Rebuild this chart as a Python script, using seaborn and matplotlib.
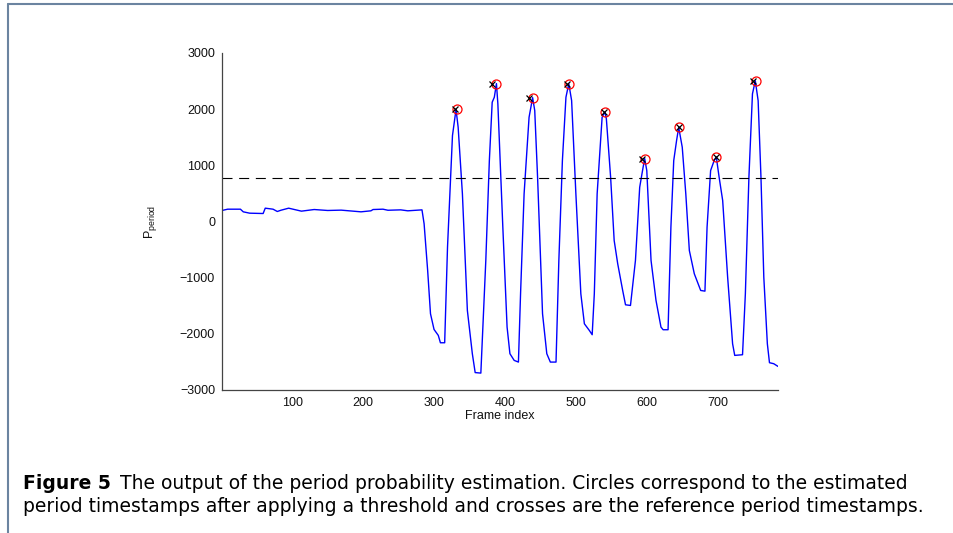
import numpy as np
import pandas as pd
import seaborn as sns
import matplotlib.pyplot as plt
from matplotlib.lines import Line2D

# period probability trace
frames = [1, 9, 27, 31, 40, 59, 62, 73, 79, 84, 95, 113, 131, 150, 169, 197, 211, 214,
          228, 235, 253, 263, 283,
          286, 291, 295, 300, 306, 309, 315,
          319, 326, 331, 334, 340, 347, 354, 358, 366,
          373, 378, 382, 385, 388, 390, 397, 403, 407, 413, 419,
          422, 427, 434, 439, 442, 446, 453, 459, 464, 472,
          476, 481, 486, 490, 494, 500, 507, 512, 519, 523,
          526, 530, 537, 541, 543, 549, 554, 559, 566, 570, 577,
          584, 590, 594, 597, 600, 606, 613, 620, 623, 630,
          634, 638, 642, 645, 650, 655, 660, 667, 676, 682,
          685, 690, 695, 698, 702, 707, 714, 721, 724, 735,
          739, 744, 749, 753, 757, 761, 765, 770, 773, 779, 785]
p_period = [196, 219, 219, 172, 148, 142, 237, 219, 178, 200, 237, 184, 213, 196, 202, 172, 190, 213,
            219, 200, 207, 190, 207,
            -41, -872, -1643, -1922, -2028, -2159, -2159,
            -457, 1530, 1995, 1678, 493, -1584, -2354, -2690, -2699,
            -694, 1085, 2123, 2212, 2455, 2094, -101, -1880, -2354, -2473, -2503,
            -1287, 493, 1856, 2205, 1975, 788, -1643, -2354, -2503, -2503,
            -694, 1085, 2212, 2455, 2153, 493, -1287, -1821, -1940, -2016,
            -1287, 493, 1856, 1950, 1827, 788, -338, -753, -1228, -1483, -1495,
            -694, 610, 907, 1120, 907, -694, -1406, -1880, -1927, -1927,
            -101, 1085, 1441, 1675, 1322, 493, -516, -931, -1228, -1240,
            -101, 907, 1085, 1150, 788, 374, -991, -2177, -2384, -2372,
            -1287, 788, 2272, 2505, 2153, 788, -991, -2177, -2514, -2532, -2580]

# estimated (circles) and reference (crosses) period timestamps
est_frames = [332, 388, 440, 491, 541, 598, 646, 698, 754]
est_values = [1995, 2455, 2205, 2455, 1950, 1120, 1675, 1150, 2505]
ref_frames = [329, 382, 434, 487, 540, 593, 645, 697, 750]
ref_values = [1995, 2455, 2205, 2455, 1950, 1120, 1675, 1150, 2505]

threshold = 780

x_ticks = [100, 200, 300, 400, 500, 600, 700]
y_ticks = [-3000, -2000, -1000, 0, 1000, 2000, 3000]

caption_bold = 'Figure 5'
caption_1 = 'The output of the period probability estimation. Circles correspond to the estimated'
caption_2 = 'period timestamps after applying a threshold and crosses are the reference period timestamps.'

sns.set_style('white')
plt.rcParams['font.family'] = ['Liberation Sans', 'DejaVu Sans']

fig = plt.figure(figsize=(9.54, 5.33), dpi=100)
ax = fig.add_axes([0.2327, 0.2683, 0.5828, 0.6323])

df = pd.DataFrame({'frame': frames, 'p': p_period})
sns.lineplot(data=df, x='frame', y='p', color='#0000ff', lw=1.0, estimator=None, sort=False, ax=ax)
ax.axhline(threshold, color='black', lw=0.8, linestyle=(0, (9, 6)))
ax.plot(est_frames, est_values, 'o', mfc='none', mec='red', ms=6.5, mew=0.9)
ax.plot(ref_frames, ref_values, 'x', color='black', ms=4.5, mew=0.9)

ax.set_xlim(1, 785)
ax.set_ylim(-3000, 3000)
ax.set_xticks(x_ticks)
ax.set_yticks(y_ticks)
for side in ['top', 'right']:
    ax.spines[side].set_visible(False)
for side in ['left', 'bottom']:
    ax.spines[side].set_color('#444444')
    ax.spines[side].set_linewidth(0.9)
ax.tick_params(direction='in', length=4, width=0.8, color='#444444', labelsize=9,
               labelcolor='#111111', pad=5)
ax.set_xlabel('Frame index', fontsize=9, labelpad=1, color='#111111')
ax.set_ylabel(r'$\mathregular{P_{period}}$', fontsize=9, labelpad=15, color='#111111')

# page frame around the figure
fig.add_artist(Line2D([0.0079, 1.0], [0.993, 0.993], color='#6b84a0', lw=1.5))
fig.add_artist(Line2D([0.0079, 0.0079], [0.0, 0.993], color='#6b84a0', lw=1.5))

# caption: fit the first line to the page width like the reference
cap_font = ['DejaVu Sans']
x0, x_end = 0.024, 0.950
y2 = 0.039
y1 = y2 + 0.0431
fs = 12.0
t_b = fig.text(x0, y1, caption_bold, fontsize=fs, fontweight='bold', family=cap_font,
               va='baseline', color='black')
t_1 = fig.text(0.5, y1, caption_1, fontsize=fs, family=cap_font, va='baseline', color='black')
fig.canvas.draw()
inv = fig.transFigure.inverted()
gap = 0.010
w = (t_b.get_window_extent().width + t_1.get_window_extent().width) / fig.bbox.width + gap
fs = fs * (x_end - x0 - gap) / (w - gap)
t_b.set_fontsize(fs)
t_1.set_fontsize(fs)
fig.canvas.draw()
bb = t_b.get_window_extent().transformed(inv)
t_1.set_x(bb.x1 + gap)
fig.text(x0, y2, caption_2, fontsize=fs, family=cap_font, va='baseline', color='black')

fig.savefig('out.png', dpi=100)
